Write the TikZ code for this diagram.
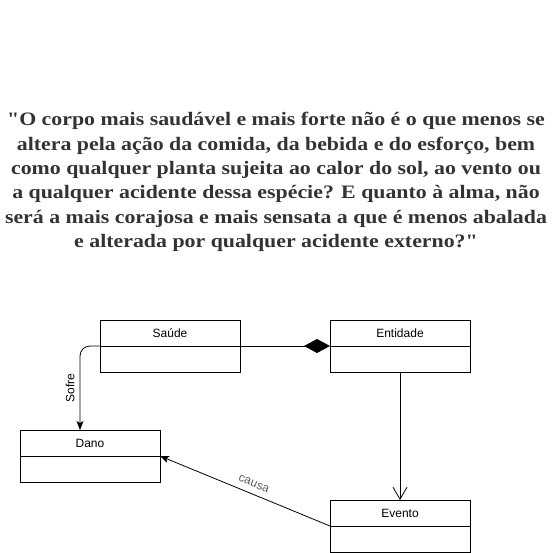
\documentclass[tikz,border=0pt]{standalone}
\usepackage{fontspec}
\setmainfont{Liberation Serif}
\setsansfont{Liberation Sans}
\newfontfamily\quotefont{Liberation Serif}[FakeStretch=1.15]
\usetikzlibrary{arrows.meta}
\definecolor{txt}{HTML}{333333}
\begin{document}
\begin{tikzpicture}[x=1pt,y=-1pt,
  umlbox/.style={draw,line width=0.8pt,minimum width=140pt,minimum height=52pt,inner sep=0pt,outer sep=0pt},
  lbl/.style={font=\sffamily\fontsize{12}{14}\selectfont},
  conn/.style={line width=0.8pt},
  filledtip/.style={-{Stealth[length=9pt,width=7pt,inset=2pt]}},
  opentip/.style={-{Straight Barb[length=12pt,width=14pt,line width=0.8pt]}}]
\useasboundingbox (0,0) rectangle (552,553);
\node[font=\quotefont\bfseries\fontsize{19}{24.3}\selectfont,text=txt,align=center] (quote) at (276,182)
{\char34 O corpo mais saudável e mais forte não é o que menos se\\
altera pela ação da comida, da bebida e do esforço, bem\\
como qualquer planta sujeita ao calor do sol, ao vento ou\\
a qualquer acidente dessa espécie? E quanto à alma, não\\
será a mais corajosa e mais sensata a que é menos abalada\\
e alterada por qualquer acidente externo?\char34};
% boxes
\node[umlbox] (saude) at (170,346) {};
\node[umlbox] (entidade) at (400,346) {};
\node[umlbox] (dano) at (90,456) {};
\node[umlbox] (evento) at (400,526) {};
\foreach \b in {saude,entidade,dano,evento}{
  \draw[conn] (\b.west) -- (\b.east);
}
\node[lbl] (tsaude) at (170,333) {Saúde};
\node[lbl] (tentidade) at (400,333) {Entidade};
\node[lbl] (tdano) at (90,443) {Dano};
\node[lbl] (tevento) at (400,513) {Evento};
% composition
\draw[conn,{Diamond[length=26pt,width=14pt]}-] (entidade.west) -- (saude.east);
% Sofre
\coordinate (corner) at (80,346);
\draw[conn,filledtip,rounded corners=10pt] (saude.west) -- (corner) -- (dano.north -| corner);
\node[lbl,rotate=90] (tsofre) at (70,388) {Sofre};
% Entidade -> Evento
\draw[conn,opentip] (entidade.south) -- (evento.north);
% causa
\draw[conn,filledtip] (evento.west) -- (dano.east) node[pos=0.47,above=3pt,sloped,lbl,text=txt!80] (tcausa) {causa};
\end{tikzpicture}
\end{document}
